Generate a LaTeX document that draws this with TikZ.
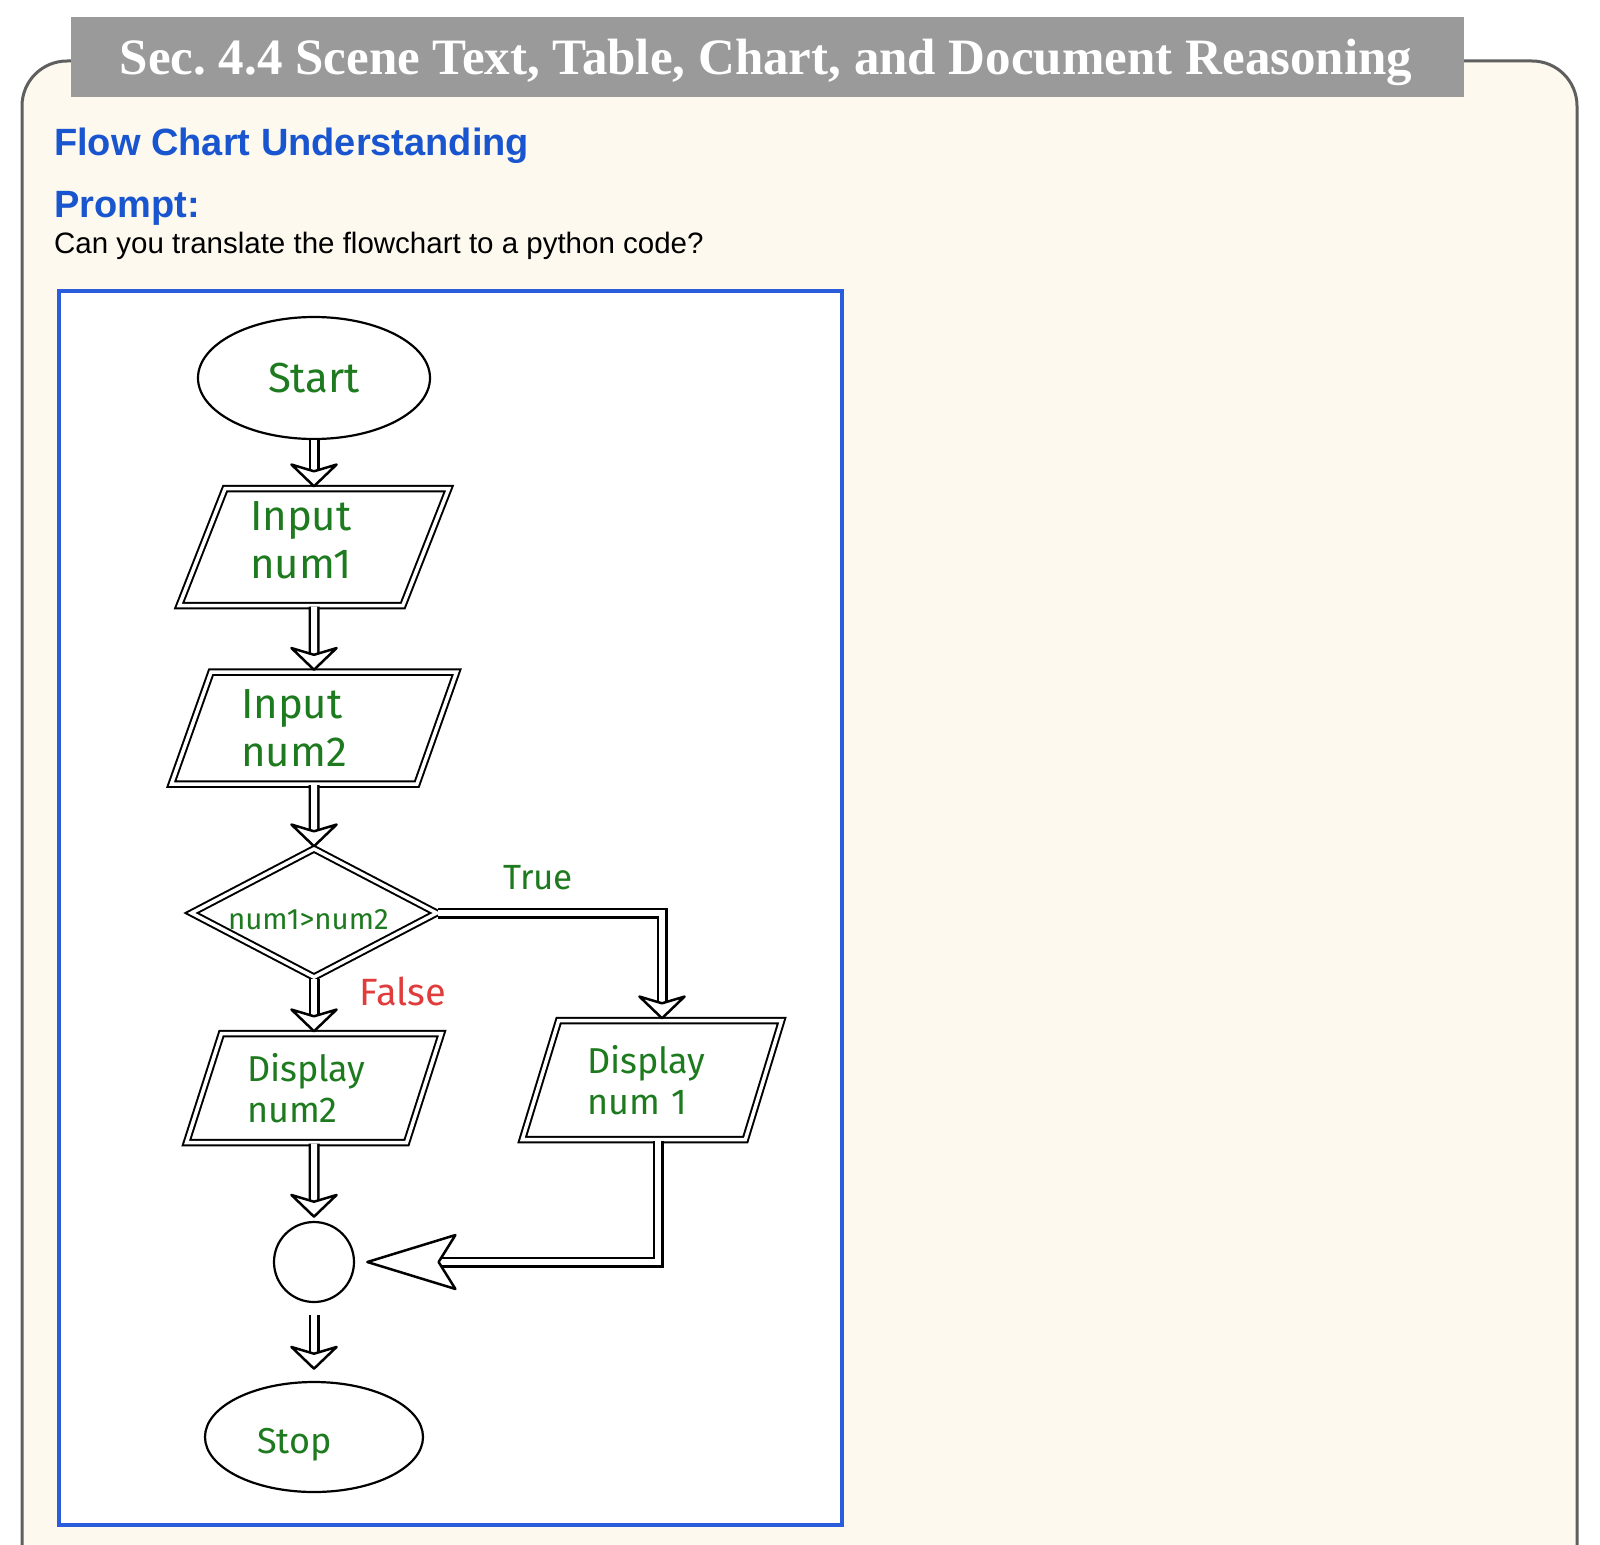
\documentclass[tikz,border=0pt]{standalone}
\usepackage{fontspec}
\setmainfont{Liberation Serif}
\setsansfont{Liberation Sans}
\newfontfamily\chartfont{Fira Sans}
\usepackage{tikz}
\usetikzlibrary{shapes}
\usetikzlibrary{arrows.meta}
\usetikzlibrary{positioning}
\usetikzlibrary{calc}

\definecolor{cream}{HTML}{FDF9EE}
\definecolor{framegray}{HTML}{5F5F5F}
\definecolor{bargray}{HTML}{9A9A9A}
\definecolor{headblue}{HTML}{1A55D0}
\definecolor{boxblue}{HTML}{2A5CDB}
\definecolor{chartgreen}{HTML}{1E7A1E}
\definecolor{chartred}{HTML}{E03C3C}

\tikzset{
  heading/.style={anchor=base west, inner sep=0pt, text=headblue, font=\sffamily\bfseries\fontsize{38}{44}\selectfont},
  terminal/.style={draw, ellipse, line width=2.2pt, inner sep=0pt, text=chartgreen},
  iobox/.style={draw, double, double distance=3.5pt, line width=2pt, trapezium, trapezium left angle=70, trapezium right angle=110, trapezium stretches=true, inner sep=0pt, align=left, text=chartgreen},
  decision/.style={draw, double, double distance=3.5pt, line width=2pt, diamond, aspect=1.9, inner sep=0pt, align=left, text=chartgreen, font=\chartfont\fontsize{29.5}{33}\selectfont},
  flowarrow/.style={double, double distance=6pt, line width=2.5pt, -{Stealth[length=26pt, width=54pt, inset=8pt, fill=white, line width=2.5pt, round]}},
  branch/.style={inner sep=0pt, font=\chartfont\fontsize{35}{40}\selectfont}
}

\begin{document}
\begin{tikzpicture}[x=1pt, y=-1pt]
    \useasboundingbox (0,0) rectangle (1600,1544);
    \clip (0,0) rectangle (1600,1544);
    \draw[framegray, line width=3pt, fill=cream, rounded corners=45pt] (22,1620) -- (22,61) -- (1577,61) -- (1577,1620);
    \fill[bargray] (71,17) rectangle (1464,97);
    \node[anchor=base, inner sep=0pt, text=white, font=\bfseries\fontsize{51}{60}\selectfont] (title) at (766,75) {Sec.\ 4.4 Scene Text, Table, Chart, and Document Reasoning};

    \node[heading] (task) at (54,155) {Flow Chart Understanding};
    \node[heading] (prompt) at (54,217) {Prompt:};
    \node[anchor=base west, inner sep=0pt, font=\sffamily\fontsize{29.5}{34}\selectfont] (question) at (54,253) {Can you translate the flowchart to a python code?};

    \draw[boxblue, line width=3.5pt, fill=white] (59,291) rectangle (842,1525);

    \node[terminal, minimum width=232, minimum height=122, font=\chartfont\fontsize{42}{48}\selectfont] (start) at (314,378) {Start};
    \node[iobox, minimum width=270, minimum height=117, text width=128, text depth=62pt, font=\chartfont\fontsize{42}{48}\selectfont] (in1) at (314,547) {Input\\num1};
    \node[iobox, minimum width=286, minimum height=112, text width=146, font=\chartfont\fontsize{42}{48}\selectfont] (in2) at (314,728) {Input\\num2};
    \node[decision, minimum width=246, minimum height=129, text width=172, text depth=0pt, text height=32pt] (cmp) at (314,913) {num1>num2};
    \node[iobox, minimum width=255, minimum height=109, text width=134, font=\chartfont\fontsize{36}{41}\selectfont] (out2) at (314,1088) {Display\\num2};
    \node[iobox, minimum width=260, minimum height=119, text width=130, font=\chartfont\fontsize{36}{41}\selectfont] (out1) at (652,1080) {Display\\num 1};
    \node[draw, circle, line width=2.2pt, minimum width=80, inner sep=0pt] (join) at (314,1262) {};
    \node[terminal, minimum width=218, minimum height=110, text width=114, text height=40pt, align=left, font=\chartfont\fontsize{36}{41}\selectfont] (stop) at (314,1437) {Stop};

    \node[branch, text=chartgreen] (yes) at (538,878) {True};
    \node[branch, text=chartred, font=\chartfont\fontsize{38}{42}\selectfont] (no) at (403,991) {False};

    \draw[flowarrow] (start) -- (in1);
    \draw[flowarrow] (in1) -- (in2);
    \draw[flowarrow] (in2) -- (cmp);
    \draw[flowarrow] (cmp) -- (out2);
    \draw[flowarrow] (cmp.east) -| ([xshift=10pt]out1.north);
    \draw[flowarrow, shorten >=3pt] (out2) -- (join);
    \draw[flowarrow, -{Stealth[length=95pt, width=58pt, inset=18pt, fill=white, line width=2.5pt, round]}, shorten >=11pt] ([xshift=6pt]out1.south) |- (join.east);
    \draw[flowarrow, shorten <=12pt, shorten >=11pt] (join) -- (stop);
\end{tikzpicture}
\end{document}
